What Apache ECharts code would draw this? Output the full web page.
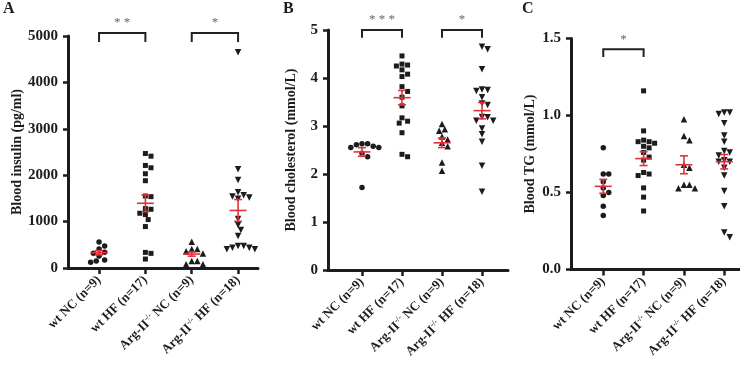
<!DOCTYPE html>
<html>
<head>
<meta charset="utf-8">
<script src="https://cdn.jsdelivr.net/npm/echarts@6/dist/echarts.min.js"></script>
<style>
  html, body { margin: 0; padding: 0; background: #fff; }
  #chart { width: 740px; height: 378px; }
</style>
</head>
<body>
<div id="chart"></div>
<script>
// group names (rich markup for the -/- superscript)
var groups = ['wt NC (n=9)', 'wt HF (n=17)', 'Arg-II{sup|-/-} NC (n=9)', 'Arg-II{sup|-/-} HF (n=18)']

// A: blood insulin (pg/ml)
var insulinWtNC = [560, 474, 409, 338, 316, 259, 172, 151, 122]
var insulinWtHF = [2468, 2410, 2210, 2160, 2031, 1881, 1552, 1538, 1281, 1266, 1180, 1152, 1044, 893, 336, 315, 193]
var insulinArgNC = [567, 409, 409, 360, 310, 151, 151, 79, 79]
var insulinArgHF = [4650, 2127, 1897, 1631, 1570, 1540, 1520, 1490, 1056, 927, 819, 690, 474, 437, 403, 403, 437, 474]
var insulinMean = [330, 1395, 300, 1240]
var insulinSem = [45, 180, 45, 235]

// B: blood cholesterol (mmol/L)
var cholWtNC = [2.63, 2.58, 2.55, 2.55, 2.61, 2.63, 2.43, 2.36, 1.72]
var cholWtHF = [4.46, 4.29, 4.27, 4.25, 4.17, 4.08, 4.03, 3.82, 3.72, 3.60, 3.42, 3.17, 3.10, 3.06, 2.86, 2.41, 2.36]
var cholArgNC = [3.04, 2.93, 2.90, 2.78, 2.72, 2.65, 2.58, 2.24, 2.07]
var cholArgHF = [4.65, 4.60, 4.18, 3.75, 3.76, 3.73, 3.60, 3.44, 3.47, 3.19, 3.11, 3.11, 3.18, 2.95, 2.83, 2.67, 2.17, 1.63]
var cholMean = [2.46, 3.59, 2.65, 3.32]
var cholSem = [0.09, 0.15, 0.1, 0.17]

// C: blood TG (mmol/L)
var tgWtNC = [0.79, 0.62, 0.62, 0.57, 0.53, 0.50, 0.48, 0.41, 0.35]
var tgWtHF = [1.16, 0.90, 0.83, 0.82, 0.84, 0.83, 0.79, 0.80, 0.76, 0.73, 0.71, 0.63, 0.61, 0.62, 0.53, 0.47, 0.38]
var tgArgNC = [0.975, 0.867, 0.84, 0.68, 0.66, 0.55, 0.527, 0.527, 0.55]
var tgArgHF = [1.02, 1.01, 1.02, 0.95, 0.87, 0.83, 0.77, 0.76, 0.74, 0.71, 0.70, 0.70, 0.66, 0.61, 0.51, 0.41, 0.21, 0.24]
var tgMean = [0.54, 0.72, 0.68, 0.70]
var tgSem = [0.045, 0.045, 0.058, 0.047]

// significance brackets: [from group, to group, top, leg end]
var insulinSig = [[0, 1, 5065, 4870], [2, 3, 5065, 4870]]
var insulinSigText = ['* *', '*']
var cholSig = [[0, 1, 5.0, 4.84], [2, 3, 5.0, 4.84]]
var cholSigText = ['* * *', '*']
var tgSig = [[0, 1, 1.43, 1.38]]
var tgSigText = ['*']

var chart = echarts.init(document.getElementById('chart'))
var FONT = '"Liberation Serif", "Times New Roman", serif'
var INK = '#1c1c1c'
var RED = '#e2313c'

// panel layout
var panels = [
  { left: 68, top: 36, width: 190, height: 232, min: -0.67, max: 3.43, step: 46.3, ymax: 5000, yint: 1000,
    name: 'Blood insulin (pg/ml)', nameGap: 44, dec: 0,
    sets: [insulinWtNC, insulinWtHF, insulinArgNC, insulinArgHF], mean: insulinMean, sem: insulinSem,
    sig: insulinSig, sigText: insulinSigText },
  { left: 328, top: 30, width: 180, height: 240, min: -0.85, max: 3.65, step: 40, ymax: 5, yint: 1,
    name: 'Blood cholesterol (mmol/L)', nameGap: 30, dec: 0,
    sets: [cholWtNC, cholWtHF, cholArgNC, cholArgHF], mean: cholMean, sem: cholSem,
    sig: cholSig, sigText: cholSigText },
  { left: 571, top: 38.5, width: 172, height: 231, min: -0.8, max: 3.39, step: 41, ymax: 1.5, yint: 0.5,
    name: 'Blood TG (mmol/L)', nameGap: 34, dec: 1,
    sets: [tgWtNC, tgWtHF, tgArgNC, tgArgHF], mean: tgMean, sem: tgSem,
    sig: tgSig, sigText: tgSigText }
]

var symbols = ['circle', 'rect', 'triangle', 'triangle']
var rotates = [0, 0, 0, 180]
var sizes = [5.5, 5, 6.5, 6.5]

// simple beeswarm so points in a group don't overlap
function swarm(vals, gi, p) {
  var d = 5.6
  var yScale = p.height / p.ymax
  var placed = []
  return vals.slice().sort(function(a, b) { return b - a }).map(function(v) {
    var py = v * yScale
    var off = 0
    for (var k = 0; k < 60; k++) {
      off = k === 0 ? 0 : (k % 2 ? 1 : -1) * Math.ceil(k / 2) * d / 2
      var hit = placed.some(function(q) {
        var dx = q[0] - off, dy = q[1] - py
        return dx * dx + dy * dy < d * d
      })
      if (!hit) break
    }
    placed.push([off, py])
    return [gi + off / p.step, v]
  })
}

function renderMean(params, api) {
  var x = api.value(0), m = api.value(1), s = api.value(2)
  var c = api.coord([x, m]), hi = api.coord([x, m + s]), lo = api.coord([x, m - s])
  function ln(x1, y1, x2, y2) {
    return { type: 'line', shape: { x1: x1, y1: y1, x2: x2, y2: y2 }, style: { stroke: RED, lineWidth: 1.6 } }
  }
  return { type: 'group', children: [
    ln(c[0] - 8.5, c[1], c[0] + 8.5, c[1]),
    ln(c[0], hi[1], c[0], lo[1]),
    ln(c[0] - 4, hi[1], c[0] + 4, hi[1]),
    ln(c[0] - 4, lo[1], c[0] + 4, lo[1])
  ] }
}

function bracketRenderer(texts) {
  return function(params, api) {
    var a = api.coord([api.value(0), api.value(2)])
    var b = api.coord([api.value(1), api.value(2)])
    var leg = api.coord([api.value(0), api.value(3)])
    return { type: 'group', children: [
      { type: 'polyline', shape: { points: [[a[0], leg[1]], [a[0], a[1]], [b[0], b[1]], [b[0], leg[1]]] },
        style: { stroke: '#222', lineWidth: 2, fill: null } },
      { type: 'text', x: (a[0] + b[0]) / 2, y: a[1] - 10,
        style: { text: texts[params.dataIndex], fill: '#666', font: '13px ' + FONT, align: 'center', verticalAlign: 'middle' } }
    ] }
  }
}

var grid = [], xAxis = [], yAxis = [], series = []
panels.forEach(function(p, pi) {
  grid.push({ left: p.left, top: p.top, width: p.width, height: p.height })
  xAxis.push({
    type: 'value', gridIndex: pi, min: p.min, max: p.max,
    splitLine: { show: false },
    axisLine: { onZero: false, lineStyle: { color: INK, width: 3 } },
    axisTick: { customValues: [0, 1, 2, 3], length: 6, lineStyle: { color: INK, width: 2.5 } },
    axisLabel: {
      customValues: [0, 1, 2, 3], rotate: 45, margin: 10,
      color: INK, fontFamily: FONT, fontWeight: 'bold', fontSize: 13,
      formatter: function(v) { return groups[Math.round(v)] },
      rich: { sup: { fontSize: 8, fontWeight: 'bold', fontFamily: FONT, color: INK, padding: [0, 0, 7, 0] } }
    }
  })
  yAxis.push({
    type: 'value', gridIndex: pi, min: 0, max: p.ymax, interval: p.yint,
    name: p.name, nameLocation: 'middle', nameGap: p.nameGap, nameRotate: 90,
    nameTextStyle: { color: INK, fontFamily: FONT, fontWeight: 'bold', fontSize: 14 },
    splitLine: { show: false },
    axisLine: { show: true, onZero: false, lineStyle: { color: INK, width: 3 } },
    axisTick: { show: true, length: 5, lineStyle: { color: INK, width: 2.5 } },
    axisLabel: { color: INK, fontFamily: FONT, fontWeight: 'bold', fontSize: 15, margin: 10,
      formatter: function(v) { return v.toFixed(p.dec) } }
  })
  p.sets.forEach(function(vals, gi) {
    series.push({
      type: 'scatter', xAxisIndex: pi, yAxisIndex: pi,
      symbol: symbols[gi], symbolRotate: rotates[gi], symbolSize: sizes[gi],
      itemStyle: { color: INK, opacity: 1 },
      data: swarm(vals, gi, p), z: 2, silent: true
    })
  })
  series.push({
    type: 'custom', xAxisIndex: pi, yAxisIndex: pi, z: 5, silent: true,
    renderItem: renderMean,
    data: p.mean.map(function(m, gi) { return [gi, m, p.sem[gi]] })
  })
  series.push({
    type: 'custom', xAxisIndex: pi, yAxisIndex: pi, z: 5, silent: true, clip: false,
    renderItem: bracketRenderer(p.sigText),
    data: p.sig
  })
})

chart.setOption({
  animation: false,
  grid: grid,
  xAxis: xAxis,
  yAxis: yAxis,
  series: series,
  graphic: [
    { type: 'text', left: 3, top: 1, style: { text: 'A', font: 'bold 16px ' + FONT, fill: INK } },
    { type: 'text', left: 283, top: 1, style: { text: 'B', font: 'bold 16px ' + FONT, fill: INK } },
    { type: 'text', left: 522, top: 1, style: { text: 'C', font: 'bold 16px ' + FONT, fill: INK } }
  ]
})
window.addEventListener('resize', function() { chart.resize() })
</script>
</body>
</html>
